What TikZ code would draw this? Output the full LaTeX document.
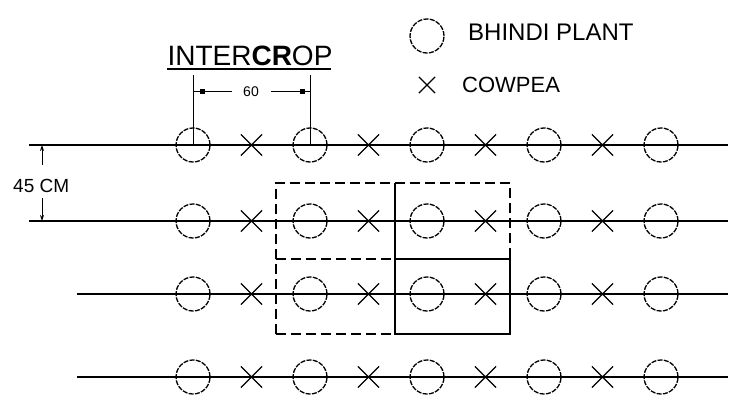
\documentclass[tikz,border=0pt]{standalone}
\usepackage{fontspec}
\setmainfont{Liberation Sans}
\usetikzlibrary{shapes.misc,arrows.meta}
\tikzset{
  plant/.style={circle,draw,minimum size=34pt,inner sep=0pt,line width=1.3pt,dash pattern=on 5pt off 1.3pt},
  cowpea/.style={cross out,draw,minimum size=20pt,inner sep=0pt,line width=1.2pt},
  rowline/.style={line width=1.8pt},
  plotdash/.style={line width=1.3pt,dash pattern=on 10pt off 5pt},
  plotsolid/.style={line width=1.3pt},
  dimline/.style={line width=1pt},
  lbl/.style={inner sep=0pt,anchor=base},
}
\begin{document}
\begin{tikzpicture}[x=1pt,y=-1pt]
\useasboundingbox (0,0) rectangle (738,412);
% rows
\foreach \r/\y/\xs in {1/145/29,2/221/29,3/294/77,4/377/77}{
  \coordinate (s\r) at (\xs,\y);
  \coordinate (e\r) at (728,\y);
  \draw[rowline] (s\r) -- (e\r);
  \foreach \i/\x in {1/193,2/310,3/427,4/544,5/661}{
    \node[plant] (c\r\i) at (\x,\y) {};
  }
  \foreach \i/\x in {1/251.5,2/368.5,3/485.5,4/602.5}{
    \node[cowpea] (x\r\i) at (\x,\y) {};
  }
}
% sample plots
\coordinate (b1) at (276,183); \coordinate (b2) at (395,183); \coordinate (b3) at (510,183);
\coordinate (b4) at (276,259); \coordinate (b5) at (395,259); \coordinate (b6) at (510,259);
\coordinate (b7) at (276,334); \coordinate (b8) at (395,334); \coordinate (b9) at (510,334);
\draw[plotdash] (b7) -- (b4) -- (b1) -- (b2) -- (b3) -- (b6);
\draw[plotdash] (b4) -- (b5);
\draw[plotdash] (b7) -- (b8);
\draw[plotsolid] (b2) -- (b8) -- (b9) -- (b6) -- (b5);
% title
\node[lbl,font=\fontsize{28}{28}\selectfont] (title) at (250,65) {INTER\textbf{CR}OP};
\coordinate (ul1) at (167,69); \coordinate (ul2) at (331,69);
\draw[line width=1.2pt] (ul1) -- (ul2);
% 60 dimension
\coordinate (t1) at (193,75); \coordinate (t2) at (310,75);
\coordinate (d1) at (193,91); \coordinate (d2) at (310,91);
\draw[dimline] (t1) -- (c11.center);
\draw[dimline] (t2) -- (c12.center);
\node[lbl,font=\fontsize{14}{14}\selectfont] (sixty) at (251,96) {60};
\coordinate (g1) at (232,91); \coordinate (g2) at (271,91);
\draw[dimline] (d1) -- (g1);
\draw[dimline] (g2) -- (d2);
\fill (202,91) ++(-2.5,-2.5) rectangle ++(5,5);
\fill (302,91) ++(-2.5,-2.5) rectangle ++(5,5);
% 45 CM dimension
\coordinate (v1) at (42,165); \coordinate (v2) at (42,145);
\coordinate (v3) at (42,198); \coordinate (v4) at (42,221);
\draw[dimline,-{Stealth[length=6pt,width=4pt]}] (v1) -- (v2);
\draw[dimline,-{Stealth[length=6pt,width=4pt]}] (v3) -- (v4);
\node[lbl,anchor=base west,font=\fontsize{19}{19}\selectfont] (cm) at (13,192) {45 CM};
% legend
\node[plant] (legc) at (427,36) {};
\node[lbl,anchor=base west,font=\fontsize{24}{24}\selectfont] (legct) at (468,41) {BHINDI PLANT};
\node[cowpea,minimum size=15pt] (legx) at (427,85) {};
\node[lbl,anchor=base west,font=\fontsize{22}{22}\selectfont] (legxt) at (462,92) {COWPEA};
\end{tikzpicture}
\end{document}
